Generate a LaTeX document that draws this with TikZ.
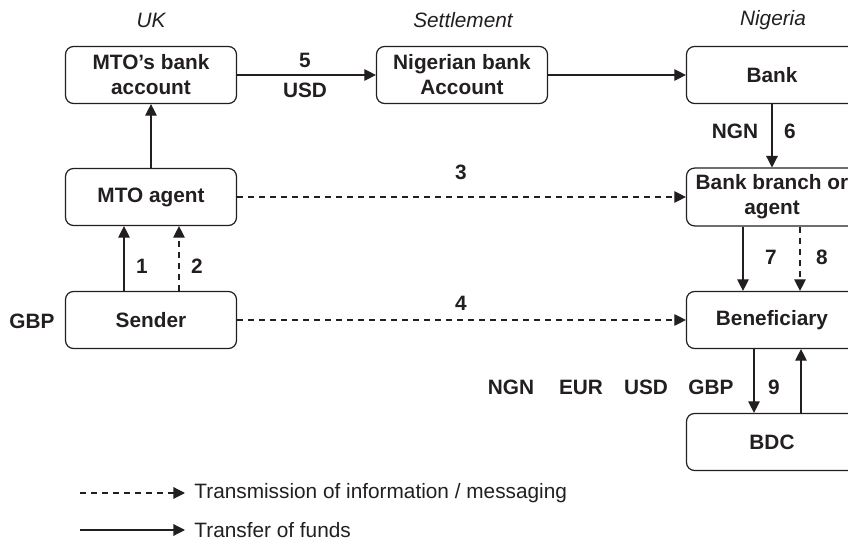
\documentclass[tikz,border=0pt]{standalone}
\usepackage{fontspec}
\setmainfont{Liberation Sans}
\usetikzlibrary{arrows.meta}
\newcommand\figfont{\fontsize{10.4}{12.5}\selectfont}
\definecolor{ink}{RGB}{35,31,32}
\tikzset{
  box/.style={draw=ink, text=ink, rounded corners=4pt, minimum width=85.5pt, minimum height=28.5pt,
    align=center, font=\figfont\bfseries, line width=0.6pt},
  fund/.style={draw=ink, -{Triangle[length=5.8pt,width=5.8pt]}, line width=0.6pt},
  info/.style={fund, dash pattern=on 3pt off 2.5pt},
  lbl/.style={text=ink, font=\figfont\bfseries, inner sep=0pt},
  region/.style={text=ink, font=\figfont\itshape, inner sep=0pt},
}
\begin{document}
\begin{tikzpicture}[x=0.5pt,y=-0.5pt]
\useasboundingbox (0,0) rectangle (848,540);
\clip (0,0) rectangle (848,540);
% column heads
\node[region] (uk) at (151,20) {UK};
\node[region] (settle) at (463,20) {Settlement};
\node[region] (nigeria) at (773,20) {Nigeria};
% boxes
\node[box] (mtobank) at (151,75) {MTO's bank\\account};
\node[box] (ngbank) at (462,75) {Nigerian bank\\Account};
\node[box] (bank) at (772,75) {Bank};
\node[box] (agent) at (151,197) {MTO agent};
\node[box] (branch) at (772,197) {Bank branch or\\agent};
\node[box] (sender) at (151,320) {Sender};
\node[box] (benef) at (772,320) {Beneficiary};
\node[box] (bdc) at (772,442) {BDC};
% funds
\draw[fund] (agent) -- (mtobank);
\draw[fund] (mtobank) -- (ngbank);
\draw[fund] (ngbank) -- (bank);
\draw[fund] (bank) -- (branch);
\draw[fund] ([xshift=-13.5pt]sender.north) -- ([xshift=-13.5pt]agent.south);
\draw[info] ([xshift=14pt]sender.north) -- ([xshift=14pt]agent.south);
\draw[info] (agent) -- (branch);
\draw[info] (sender) -- (benef);
\draw[fund] ([xshift=-14.5pt]branch.south) -- ([xshift=-14.5pt]benef.north);
\draw[info] ([xshift=14pt]branch.south) -- ([xshift=14pt]benef.north);
\draw[fund] ([xshift=-9pt]benef.south) -- ([xshift=-9pt]bdc.north);
\draw[fund] ([xshift=14.5pt]bdc.north) -- ([xshift=14.5pt]benef.south);
% labels
\node[lbl] (n5) at (305,60) {5};
\node[lbl] (usd) at (305,90) {USD};
\node[lbl] (ngn6) at (735,131) {NGN};
\node[lbl] (n6) at (790,131) {6};
\node[lbl] (n1) at (142,266) {1};
\node[lbl] (n2) at (197,266) {2};
\node[lbl] (n3) at (461,172) {3};
\node[lbl] (n4) at (461,303) {4};
\node[lbl] (n7) at (771,257) {7};
\node[lbl] (n8) at (822,257) {8};
\node[lbl] (gbp) at (32,321) {GBP};
\node[lbl] (n9) at (774,387) {9};
\node[lbl] (c1) at (511,387) {NGN};
\node[lbl] (c2) at (581,387) {EUR};
\node[lbl] (c3) at (646,387) {USD};
\node[lbl] (c4) at (711,387) {GBP};
% legend
\coordinate (la) at (80,493);
\coordinate (lb) at (185,493);
\coordinate (lc) at (80,530);
\coordinate (ld) at (185,530);
\draw[info] (la) -- (lb);
\draw[fund] (lc) -- (ld);
\node[anchor=west, inner sep=0pt, text=ink, font=\figfont] (lt1) at (194,493) {Transmission of information / messaging};
\node[anchor=west, inner sep=0pt, text=ink, font=\figfont] (lt2) at (194,530) {Transfer of funds};
\end{tikzpicture}
\end{document}
